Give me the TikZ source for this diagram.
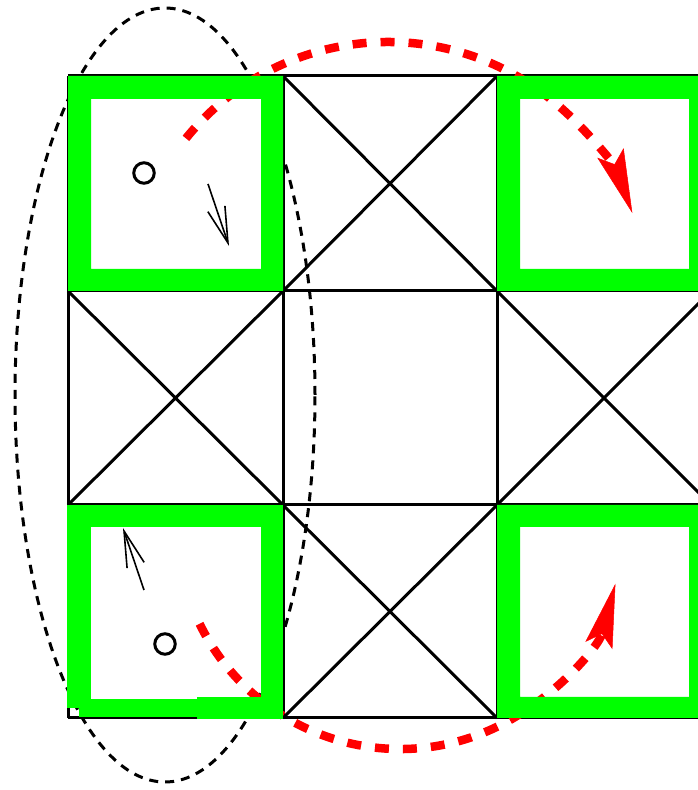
\documentclass[tikz,border=0pt]{standalone}
\usetikzlibrary{arrows.meta}
\definecolor{frameGreen}{RGB}{0,255,0}
\definecolor{arcRed}{RGB}{255,0,0}
\begin{document}
\begin{tikzpicture}[x=1pt,y=1pt,
  gridline/.style={line width=3pt,draw=black},
  ellipseline/.style={line width=3pt,draw=black,dash pattern=on 9pt off 7pt},
  redarc/.style={line width=8.5pt,draw=arcRed,dash pattern=on 14pt off 14pt,
    -{Stealth[length=64pt,width=28pt,inset=12pt,line width=0.5pt]}},
  greenframe/.style={fill=frameGreen,even odd rule},
  ring/.style={draw=black,circle,line width=3pt,minimum size=20.5pt,inner sep=0pt},
  thinarrow/.style={line width=1.6pt,draw=black,
    -{Straight Barb[length=36pt,width=18pt,line width=1.6pt]}}]
\useasboundingbox (0,0) rectangle (698,790);
\clip (0,0) rectangle (698,790);
% grid corner coordinates
\foreach \i/\x in {0/68,1/283,2/497,3/711}
  \foreach \j/\y in {0/714,1/499,2/285,3/72}
    \coordinate (p\i\j) at (\x,\y);
% grid lines
\foreach \j in {0,1,2,3} \draw[gridline] (p0\j) -- (p3\j);
\foreach \i in {0,1,2,3} \draw[gridline] (p\i0) -- (p\i3);
% diagonals
\draw[gridline] (p10) -- (p21) (p20) -- (p11);
\draw[gridline] (p01) -- (p12) (p11) -- (p02);
\draw[gridline] (p21) -- (p32) (p31) -- (p22);
\draw[gridline] (p12) -- (p23) (p22) -- (p13);
% dashed ellipse
\coordinate (ellCentre) at (165,395);
\draw[ellipseline] (ellCentre) ellipse[x radius=150pt,y radius=387pt];
% red arcs
\coordinate (arcTopCentre) at (388,488);
\coordinate (arcBotCentre) at (400,264);
\draw[redarc] ([shift={(141:260pt)}]arcTopCentre) arc[start angle=141,end angle=20,radius=260pt];
\draw[redarc] ([shift={(206:223pt)}]arcBotCentre) arc[start angle=206,end angle=345,radius=223pt];
% green frames
\fill[greenframe] (p00) rectangle (p11) (91,691) rectangle (261,521);
\fill[greenframe] (p20) rectangle (p31) (520,691) rectangle (689,521);
\fill[greenframe] (p22) rectangle (p33) (520,263) rectangle (689,93);
% bottom-left frame (pieces)
\fill[frameGreen] (68,285) rectangle (283,263);
\fill[frameGreen] (67,285) rectangle (91,82);
\fill[frameGreen] (261,285) rectangle (283,71);
\fill[frameGreen] (79,91) rectangle (197,73);
\fill[frameGreen] (197,93) rectangle (283,71);
% circles
\node[ring] (ringA) at (144,617) {};
\node[ring] (ringB) at (165,146) {};
% thin arrows
\coordinate (aS) at (208,606);
\coordinate (aE) at (229,544);
\coordinate (bS) at (144,200);
\coordinate (bE) at (123,262);
\draw[thinarrow] (aS) -- (aE);
\draw[thinarrow] (bS) -- (bE);
\end{tikzpicture}
\end{document}
